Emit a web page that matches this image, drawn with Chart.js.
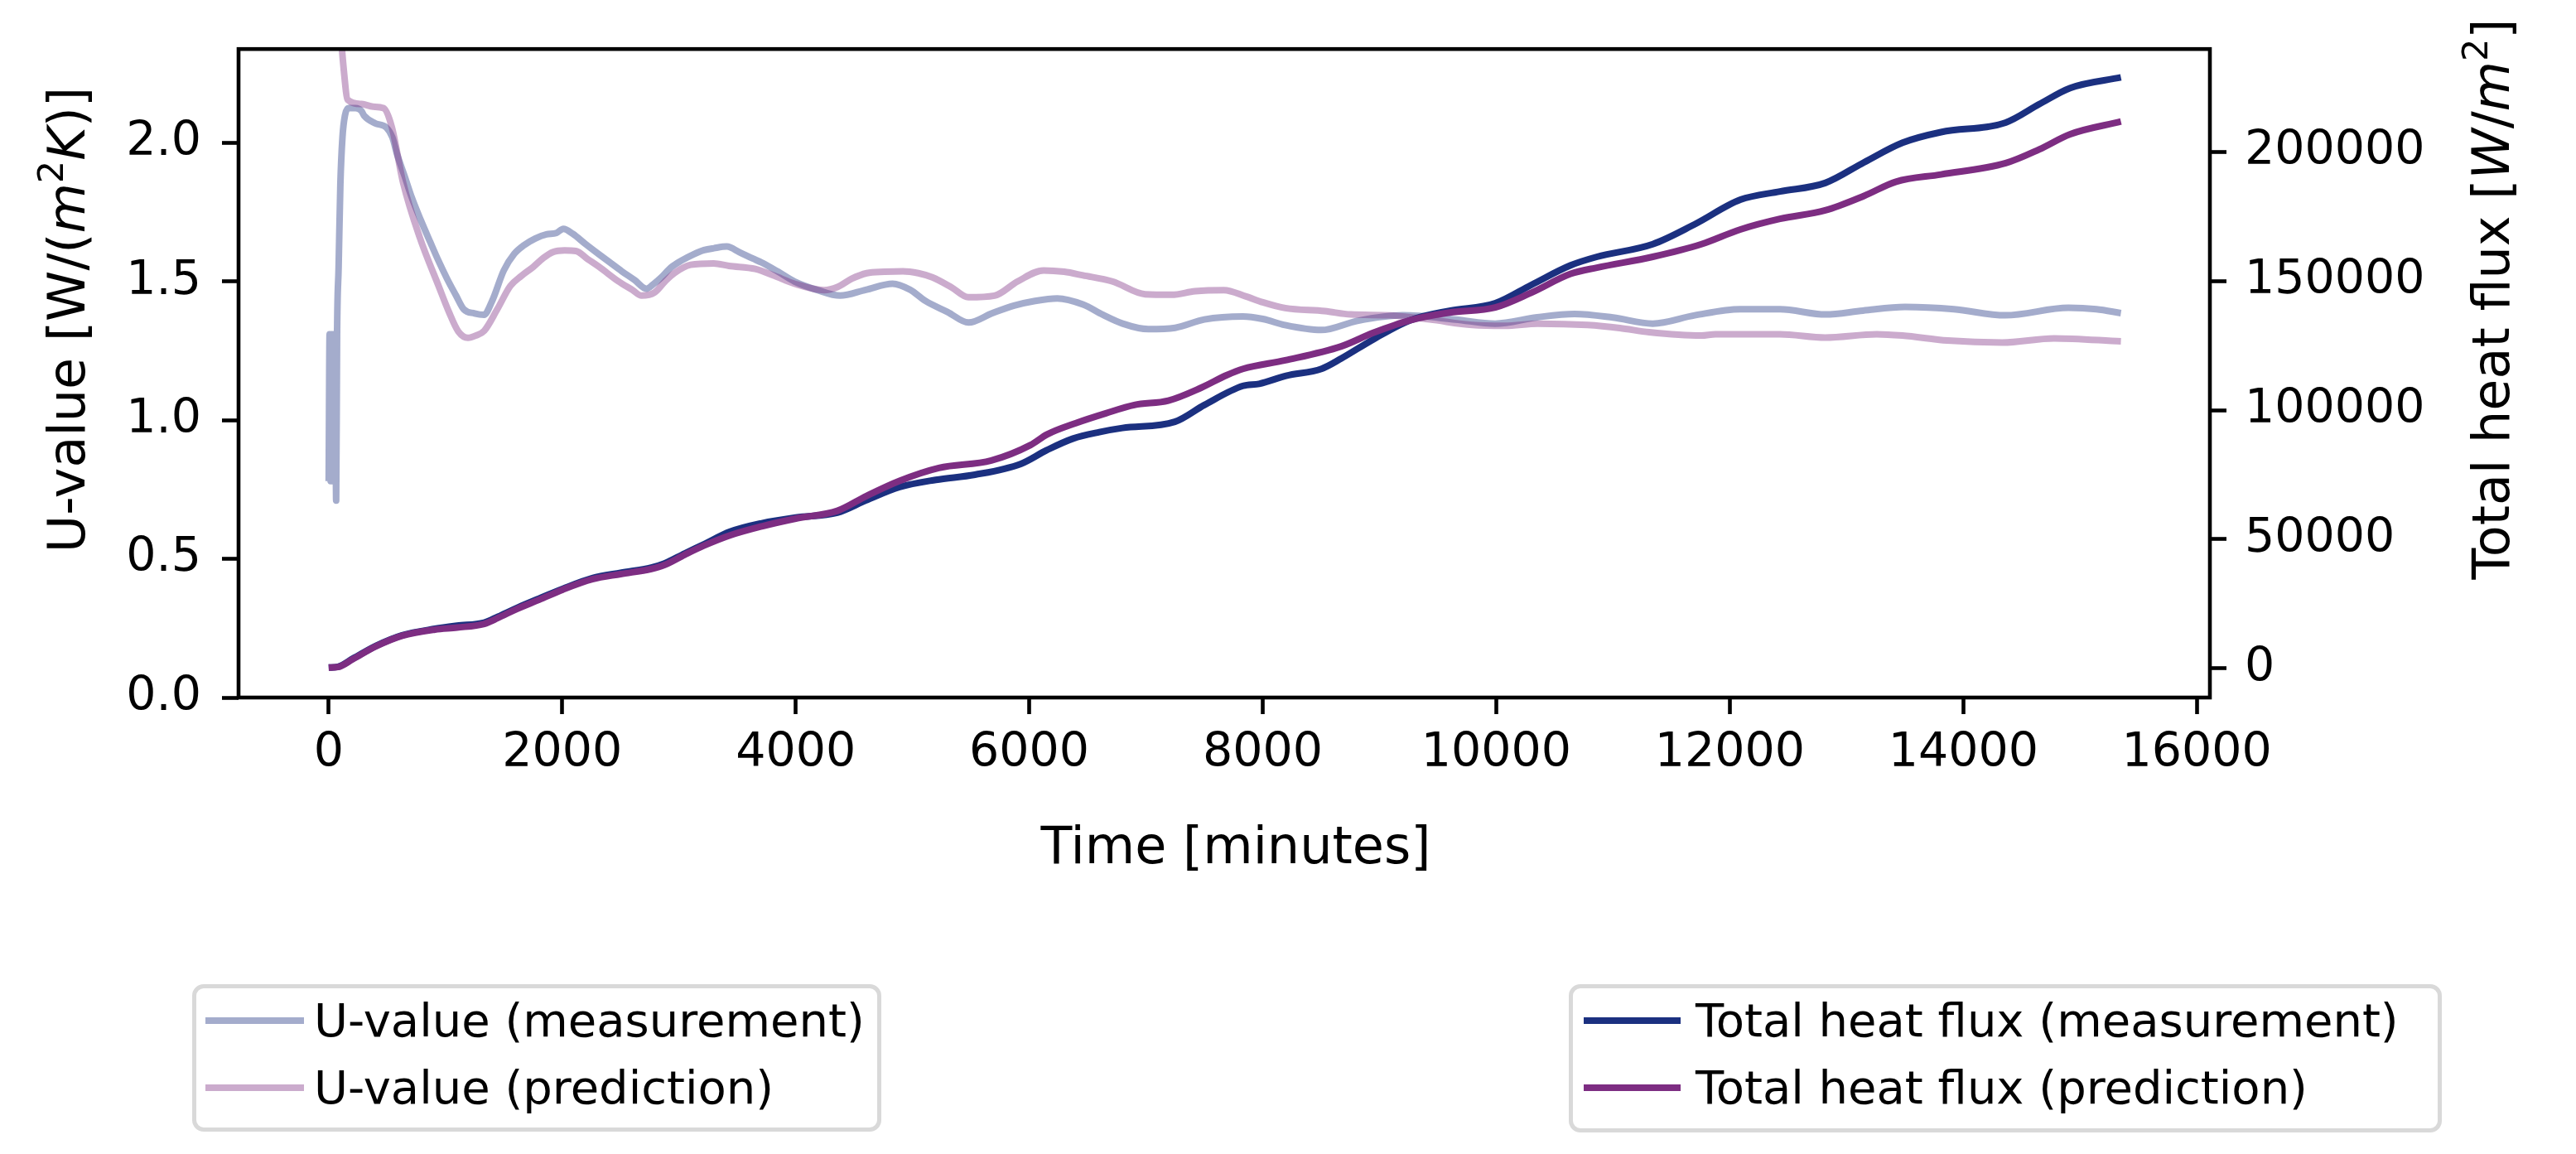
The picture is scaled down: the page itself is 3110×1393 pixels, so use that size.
<!DOCTYPE html>
<html><head><meta charset="utf-8">
<script src="https://cdn.jsdelivr.net/npm/chart.js@4.4.1/dist/chart.umd.min.js"></script>
<style>
html,body{margin:0;padding:0;background:#fff;}
#wrap{position:relative;width:3110px;height:1393px;overflow:hidden;}
canvas{position:absolute;left:0;top:0;}
.lbox{position:absolute;box-sizing:border-box;border:5px solid #d9d9d9;border-radius:14px;background:#fff;}
.sample{position:absolute;height:8px;}
.ltext{position:absolute;white-space:nowrap;font-family:'DejaVu Sans';font-size:56px;line-height:56px;color:#000;}
</style></head>
<body><div id="wrap"><canvas id="c" width="3110" height="1393"></canvas></div>
<script>
// ---------------- data ----------------
const timeUMeas = [0,8,16,24,32,40,48,56,64,72,85,100,118,140,170,230,280,305,400,494,545,587,650,707,790,872,940,1014,1090,1156,1250,1330,1400,1500,1590,1670,1770,1865,1950,2010,2090,2200,2315,2420,2510,2620,2720,2780,2850,2930,3020,3120,3215,3300,3410,3520,3630,3710,3850,3990,4180,4380,4600,4830,4980,5110,5300,5480,5680,5870,6050,6240,6460,6630,6800,7020,7250,7500,7830,8000,8190,8500,8810,9200,9650,9990,10350,10670,11000,11340,11700,12090,12430,12820,13140,13500,13920,14360,14900,15140,15350];
const uMeas = [0.78,1.31,0.78,1.31,0.78,1.31,0.78,1.31,0.71,1.31,1.55,1.85,2.02,2.10,2.125,2.125,2.115,2.097,2.07,2.055,2.02,1.957,1.88,1.808,1.72,1.64,1.575,1.51,1.45,1.40,1.385,1.38,1.43,1.54,1.60,1.63,1.655,1.67,1.675,1.69,1.672,1.635,1.598,1.565,1.537,1.505,1.474,1.49,1.515,1.55,1.575,1.597,1.613,1.62,1.626,1.605,1.583,1.568,1.535,1.50,1.47,1.449,1.47,1.492,1.47,1.43,1.39,1.352,1.385,1.413,1.43,1.439,1.417,1.38,1.348,1.328,1.333,1.363,1.374,1.365,1.343,1.325,1.358,1.378,1.363,1.348,1.371,1.383,1.37,1.348,1.378,1.40,1.40,1.381,1.395,1.408,1.40,1.378,1.405,1.40,1.386];

const timeUPred = [0,60,100,130,163,282,380,470,540,637,779,945,1030,1110,1193,1260,1332,1444,1556,1650,1753,1840,1921,2020,2118,2220,2315,2483,2600,2680,2790,2880,2960,3100,3297,3429,3654,3820,3990,4243,4357,4480,4608,4760,4918,5050,5170,5330,5479,5703,5900,6124,6300,6461,6713,6993,7219,7420,7667,7857,8000,8193,8531,8754,9093,9430,9795,10075,10356,10780,11058,11310,11757,11878,12430,12817,13259,13479,13866,14335,14777,15350];
const uPred = [3.4,2.75,2.42,2.26,2.155,2.14,2.13,2.125,2.058,1.857,1.66,1.48,1.39,1.32,1.297,1.305,1.322,1.40,1.484,1.52,1.553,1.585,1.606,1.612,1.61,1.58,1.553,1.50,1.47,1.449,1.46,1.50,1.53,1.56,1.565,1.556,1.545,1.52,1.492,1.469,1.48,1.51,1.53,1.535,1.537,1.53,1.515,1.48,1.443,1.449,1.50,1.54,1.535,1.522,1.50,1.454,1.452,1.465,1.469,1.446,1.425,1.404,1.393,1.381,1.378,1.363,1.343,1.34,1.348,1.343,1.332,1.317,1.305,1.31,1.31,1.298,1.31,1.305,1.287,1.28,1.295,1.284];

const timeFluxMeas = [0,80,209,405,630,910,1100,1332,1450,1612,1800,2006,2258,2500,2763,2875,3050,3213,3437,3710,4000,4356,4600,4889,5200,5535,5928,6150,6376,6600,6798,7247,7500,7831,7969,8200,8503,8672,8950,9261,9600,9991,10300,10637,10862,11340,11700,12091,12430,12817,13150,13480,13809,14363,14650,14916,15350];
const fluxMeas = [300,600,3800,8700,12800,15300,16500,17700,20000,23400,27000,30800,34900,37000,39000,40600,44500,48000,52900,56200,58400,60300,65000,70200,73000,75000,79200,84500,89000,91500,93100,95500,102000,109400,110200,113300,116000,120000,127500,134800,138500,141400,148500,156100,159400,164300,172000,181500,184700,188000,196000,203600,207700,211400,218500,224800,228900];

const timeFluxPred = [0,80,209,405,630,910,1100,1332,1450,1612,1800,2006,2258,2500,2763,2875,3050,3213,3437,3710,4000,4357,4608,4889,5226,5675,6012,6153,6400,6657,6900,7191,7473,7689,7831,8193,8672,8950,9261,9600,9991,10300,10637,10862,11340,11757,12091,12430,12817,13150,13424,13809,14363,14650,14916,15350];
const fluxPred = [300,500,3600,8500,12600,15000,15800,17200,19500,23000,26500,30500,34500,36500,38500,40000,44000,47500,51500,55000,58000,61000,66800,72600,77600,80500,86500,90600,95000,98800,102000,103700,108700,113500,116000,119300,124700,130000,134800,137800,139800,145500,152800,155200,159400,164300,170000,174100,177400,183000,188500,191300,195700,201000,206900,211800];

const xTicks = [0,2000,4000,6000,8000,10000,12000,14000,16000];
const uTicks = [0,0.5,1.0,1.5,2.0];
const fluxTicks = [0,50000,100000,150000,200000];

const seriesLabels = ['U-value (measurement)','U-value (prediction)','Total heat flux (measurement)','Total heat flux (prediction)'];
const xTitle = [['Time [minutes]','n']];
const uTitle = [['U-value [W/(','n'],['m','i'],['2','s'],['K','i'],[')]','n']];
const fluxTitle = [['Total heat flux [','n'],['W','i'],['/','n'],['m','i'],['2','s'],[']','n']];

// ---------------- styling ----------------
const NAVY = 'rgb(27,48,128)';
const PURPLE = 'rgb(125,45,130)';
const NAVY_A = 'rgba(27,48,128,0.4)';
const PURPLE_A = 'rgba(125,45,130,0.4)';
const FS = 57;
const TFS = 62;
const FONT = 'DejaVu Sans';

function pts(xs, ys){ return xs.map((x,i)=>({x:x, y:ys[i]})); }
function mk(label, xs, ys, color, axis, order){
  return {label, data: pts(xs,ys), borderColor: color, backgroundColor: color,
    borderWidth: 8, pointRadius: 0, pointHoverRadius: 0, yAxisID: axis, order,
    cubicInterpolationMode: 'monotone', borderJoinStyle: 'round', borderCapStyle: 'butt',
    fill: false, clip: 0};
}

const datasets = [
  mk(seriesLabels[0], timeUMeas, uMeas, NAVY_A, 'y', 3),
  mk(seriesLabels[1], timeUPred, uPred, PURPLE_A, 'y', 2),
  mk(seriesLabels[2], timeFluxMeas, fluxMeas, NAVY, 'y2', 1),
  mk(seriesLabels[3], timeFluxPred, fluxPred, PURPLE, 'y2', 0)
];

function drawRich(ctx, segs, x, y, rot){
  ctx.save();
  ctx.translate(x, y); ctx.rotate(rot);
  const fonts = {n: TFS+'px "'+FONT+'"', i: 'italic '+TFS+'px "'+FONT+'"', s: Math.round(TFS*0.7)+'px "'+FONT+'"'};
  let total = 0;
  const w = segs.map(([t,s])=>{ ctx.font = fonts[s]; const m = ctx.measureText(t).width; total += m; return m; });
  let cx = -total/2;
  ctx.textAlign = 'left'; ctx.textBaseline = 'alphabetic'; ctx.fillStyle = '#000';
  segs.forEach(([t,s],i)=>{ ctx.font = fonts[s]; ctx.fillText(t, cx, s==='s' ? -TFS*0.42 : 0); cx += w[i]; });
  ctx.restore();
}

const framePlugin = {
  id: 'frame',
  afterDatasetsDraw(chart){
    const {ctx, chartArea: a} = chart;
    ctx.save();
    ctx.strokeStyle = '#000'; ctx.lineWidth = 4.6;
    ctx.strokeRect(a.left, a.top, a.right - a.left, a.bottom - a.top);
    ctx.restore();
  },
  afterDraw(chart){
    const ctx = chart.ctx;
    drawRich(ctx, xTitle, 1492, 1042, 0);
    drawRich(ctx, uTitle, 102, 386, -Math.PI/2);
    drawRich(ctx, fluxTitle, 3029, 361, -Math.PI/2);
  }
};

const tickFont = {family: FONT, size: FS};
const gridOpts = {display: true, drawOnChartArea: false, drawTicks: true, tickLength: 20, tickWidth: 4.6, tickColor: '#000'};

new Chart(document.getElementById('c'), {
  type: 'line',
  data: {datasets},
  options: {
    responsive: false, animation: false, devicePixelRatio: 1, events: [],
    layout: {padding: {left: 0, right: 0, top: 59, bottom: 333}},
    plugins: {legend: {display: false}, tooltip: {enabled: false}},
    scales: {
      x: {type: 'linear', position: 'bottom', min: -772, max: 16112,
        afterBuildTicks: s => { s.ticks = xTicks.map(v => ({value: v})); },
        afterFit: s => { s.height = 218; },
        ticks: {font: tickFont, color: '#000', padding: 14, maxRotation: 0, autoSkip: false, callback: v => String(v)},
        grid: gridOpts, border: {display: false}},
      y: {type: 'linear', position: 'left', min: 0, max: 2.338,
        afterBuildTicks: s => { s.ticks = uTicks.map(v => ({value: v})); },
        afterFit: s => { s.width = 288; },
        ticks: {font: tickFont, color: '#000', padding: 25, callback: v => Number(v).toFixed(1)},
        grid: gridOpts, border: {display: false}},
      y2: {type: 'linear', position: 'right', min: -11325, max: 239880,
        afterBuildTicks: s => { s.ticks = fluxTicks.map(v => ({value: v})); },
        afterFit: s => { s.width = 442; },
        ticks: {font: tickFont, color: '#000', padding: 22, callback: v => String(v)},
        grid: gridOpts, border: {display: false}}
    }
  },
  plugins: [framePlugin]
});

// ---------------- legends (HTML) ----------------
const wrap = document.getElementById('wrap');
function legendBox(box, items){
  const b = document.createElement('div');
  b.className = 'lbox';
  Object.assign(b.style, {left: box.x+'px', top: box.y+'px', width: box.w+'px', height: box.h+'px'});
  wrap.appendChild(b);
  items.forEach((it, i) => {
    const cy = box.rows[i];
    const s = document.createElement('div');
    s.className = 'sample';
    Object.assign(s.style, {left: box.sx+'px', top: (cy-4)+'px', width: box.sw+'px', background: it.borderColor});
    wrap.appendChild(s);
    const t = document.createElement('div');
    t.className = 'ltext';
    t.textContent = it.label;
    Object.assign(t.style, {left: box.tx+'px', top: (cy-28)+'px'});
    wrap.appendChild(t);
  });
}
legendBox({x:232, y:1188, w:832, h:178, sx:248, sw:119, tx:379, rows:[1232,1313]}, [datasets[0], datasets[1]]);
legendBox({x:1894, y:1188, w:1054, h:179, sx:1912, sw:117, tx:2047, rows:[1232,1313]}, [datasets[2], datasets[3]]);
</script>
</body></html>
